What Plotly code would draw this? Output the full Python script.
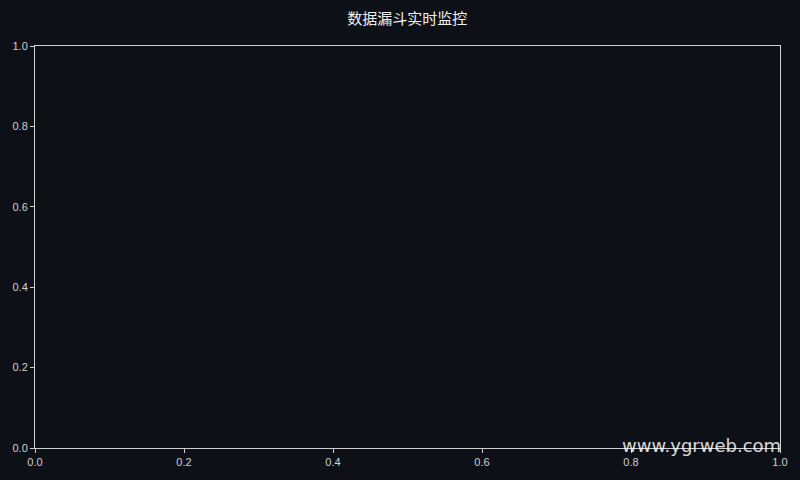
import plotly.graph_objects as go

# the monitor has no rows yet, so the funnel is empty
stages = []
counts = []

tick_vals = [0.0, 0.2, 0.4, 0.6, 0.8, 1.0]
tick_text = ["0.0", "0.2", "0.4", "0.6", "0.8", "1.0"]

title_text = "数据漏斗实时监控"
watermark = "www.ygrweb.com"

BG = "#0d1017"
FG = "#d0d0d0"


def main():
    fig = go.Figure()
    fig.add_trace(go.Scatter(x=stages, y=counts, mode="markers", showlegend=False))

    axis_style = dict(
        range=[0, 1],
        tickvals=tick_vals,
        ticktext=tick_text,
        showgrid=False,
        zeroline=False,
        showline=True,
        linecolor=FG,
        linewidth=1,
        mirror=True,
        ticks="outside",
        ticklen=4,
        tickcolor=FG,
        tickfont=dict(size=11, color=FG, family="Liberation Sans, Arial, sans-serif"),
    )
    fig.update_xaxes(**axis_style)
    fig.update_yaxes(**axis_style)

    fig.add_annotation(
        text=watermark,
        xref="paper",
        yref="paper",
        x=1.004,
        y=0.005,
        xanchor="right",
        yanchor="middle",
        showarrow=False,
        font=dict(size=18, color="rgba(255,255,255,0.85)", family="DejaVu Sans, sans-serif"),
    )

    fig.update_layout(
        width=800,
        height=480,
        paper_bgcolor=BG,
        plot_bgcolor=BG,
        margin=dict(l=35, r=20, t=46, b=28),
        title=dict(
            text=title_text,
            x=0.509,
            xanchor="center",
            y=0.96,
            yanchor="middle",
            font=dict(size=15, color="#f0f0f0", family="Noto Sans CJK SC"),
        ),
    )
    # drop the browser's default page margin so the figure sits at 0,0
    fig.write_html(
        "out.html",
        config={"displayModeBar": False},
        post_script="document.body.style.margin='0';document.body.style.background='%s';" % BG,
    )


if __name__ == "__main__":
    main()
